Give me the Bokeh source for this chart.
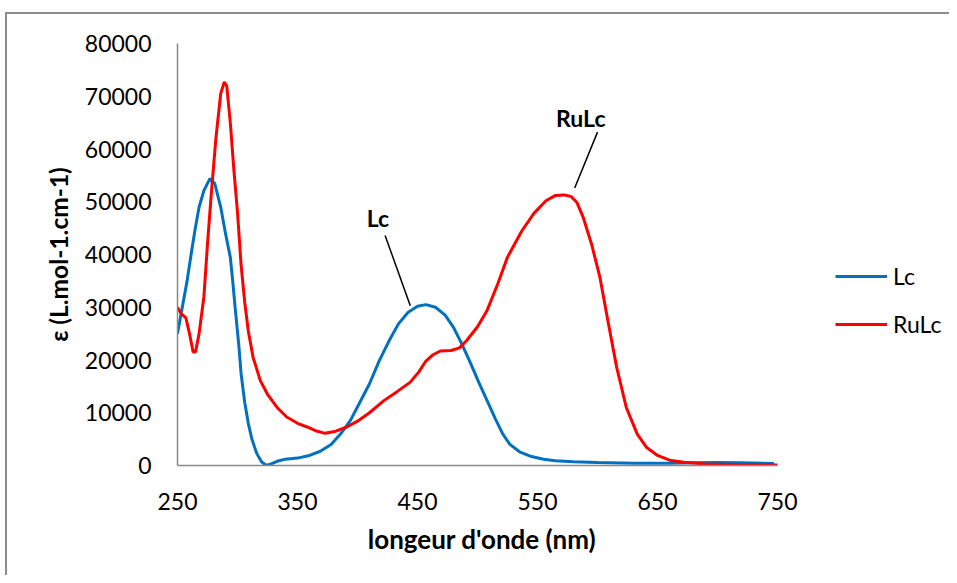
from bokeh.plotting import figure
from bokeh.models import Range1d, FixedTicker, Legend, LegendItem
from bokeh.core.properties import value
from bokeh.embed import file_html
from bokeh.resources import INLINE

# ---- data ----
lc_wl = [250, 254, 258, 262, 265, 268, 272, 277, 281, 286, 290, 294, 296, 298, 301, 303,
         306, 309, 312, 316, 320, 324, 328, 333, 340, 350, 360, 369, 378, 386, 394, 402,
         410, 418, 426, 434, 442, 450, 457, 465, 473, 480, 487, 494, 501, 508, 515, 521,
         527, 535, 545, 555, 565, 580, 600, 630, 660, 680, 700, 720, 747]
lc_eps = [25000, 30000, 35000, 41000, 45200, 49000, 52100, 54400, 53500, 49000, 44000,
          39500, 35000, 30000, 23000, 17400, 12000, 8000, 5000, 2300, 700, 0, 300, 800,
          1200, 1400, 1900, 2700, 4000, 6000, 8500, 12000, 15500, 19800, 23500, 26800,
          29000, 30200, 30500, 30000, 28500, 26200, 23000, 19500, 15800, 12300, 8800,
          6000, 4000, 2600, 1700, 1200, 900, 700, 550, 450, 450, 500, 550, 500, 400]

rulc_wl = [250, 253, 257, 260, 263, 265, 268, 272, 275, 278, 282, 286, 289, 291, 294, 297,
           300, 303, 306, 309, 313, 319, 325, 333, 341, 350, 358, 365, 373, 382, 391, 400,
           410, 422, 433, 444, 451, 457, 463, 469, 478, 485, 491, 500, 508, 517, 525, 537,
           547, 557, 565, 572, 578, 583, 588, 595, 602, 609, 616, 624, 633, 641, 650, 660,
           672, 690, 720, 750]
rulc_eps = [30000, 28800, 28000, 25000, 21500, 21500, 25000, 32000, 42000, 51000, 62000,
            70500, 72700, 72000, 65000, 56000, 48000, 38000, 31000, 25500, 20500, 16100,
            13500, 11000, 9200, 8000, 7300, 6600, 6100, 6500, 7300, 8400, 10000, 12300,
            14000, 15800, 17700, 19800, 21000, 21700, 21800, 22300, 23700, 26300, 29400,
            34500, 39500, 44500, 47800, 50200, 51200, 51300, 51000, 49800, 47100, 42000,
            35700, 27000, 18600, 11000, 6000, 3400, 1900, 1000, 600, 300, 150, 100]

x_ticks = [250, 350, 450, 550, 650, 750]
y_ticks = [0, 10000, 20000, 30000, 40000, 50000, 60000, 70000, 80000]

series_names = ["Lc", "RuLc"]
series_colors = ["#0070C0", "#FF0000"]

# annotation texts and leader lines (data coords)
ann_text = ["Lc", "RuLc"]
ann_x = [417, 586]
ann_y = [47000, 65800]
lead_x0 = [423, 600]
lead_y0 = [43600, 63200]
lead_x1 = [444, 581]
lead_y1 = [30300, 52600]

x_title = "longeur d'onde (nm)"
y_title = "ε (L.mol-1.cm-1)"

FONT = "Lato"

W, H = 949, 575
LEFT, TOP, BOTTOM, RIGHT = 177, 43, 110, 5
PX_PER_NM = 600 / 500.0
frame_w = W - LEFT - RIGHT
x_end = 250 + frame_w / PX_PER_NM   # frame extends right so the legend lies inside it

p = figure(width=W, height=H, output_backend="svg", toolbar_location=None,
           x_range=Range1d(250, x_end), y_range=Range1d(0, 80000),
           min_border_left=LEFT, min_border_right=RIGHT, min_border_top=TOP,
           min_border_bottom=BOTTOM)
p.styles = {"box-shadow": "inset 5px 12px 0 0 white, inset 7px 14px 0 0 #8c8c8c"}
p.border_fill_color = None
p.background_fill_color = "white"
p.outline_line_color = None
p.xgrid.visible = False
p.ygrid.visible = False

for ax in (p.xaxis[0], p.yaxis[0]):
    ax.axis_line_color = "#898989"
    ax.axis_line_width = 1.5
    ax.major_tick_in = 0
    ax.major_tick_out = 0
    ax.minor_tick_in = 0
    ax.minor_tick_out = 0
    ax.major_label_text_font = FONT
    ax.major_label_text_font_size = "23px"
    ax.major_label_text_color = "black"
    ax.axis_label_text_font = FONT
    ax.axis_label_text_font_style = "bold"
    ax.axis_label_text_color = "black"

p.xaxis.bounds = (250, 750)
p.xaxis.axis_label_text_font_size = "26px"
p.yaxis.axis_label_text_font_size = "24.5px"
p.xaxis.ticker = FixedTicker(ticks=x_ticks)
p.yaxis.ticker = FixedTicker(ticks=y_ticks)
# trailing no-break spaces keep the title centred under the 250-750 span
p.xaxis.axis_label = x_title + "\u00a0" * 25
p.yaxis.axis_label = y_title
p.xaxis.major_label_standoff = 27
p.yaxis.major_label_standoff = 26
p.xaxis.axis_label_standoff = 10
p.yaxis.axis_label_standoff = 9

r1 = p.line(lc_wl, lc_eps, line_color=series_colors[0], line_width=3)
r2 = p.line(rulc_wl, rulc_eps, line_color=series_colors[1], line_width=3)

p.segment(x0=lead_x0, y0=lead_y0, x1=lead_x1, y1=lead_y1, line_color="black", line_width=1.5)
p.text(x=ann_x, y=ann_y, text=ann_text, text_align="center", text_baseline="middle",
       text_font=value(FONT), text_font_size="23px", text_font_style="bold", text_color="black")

legend = Legend(items=[LegendItem(label=series_names[0], renderers=[r1]),
                       LegendItem(label=series_names[1], renderers=[r2])],
                location=(658, 127))
legend.glyph_width = 52
legend.glyph_height = 24
legend.label_height = 24
legend.spacing = 20
legend.padding = 0
legend.margin = 0
legend.label_standoff = 6
legend.border_line_color = None
legend.background_fill_alpha = 0
legend.label_text_font = FONT
legend.label_text_font_size = "23px"
legend.label_text_color = "black"
p.add_layout(legend, "center")

open("out.html", "w").write(file_html(p, INLINE))
